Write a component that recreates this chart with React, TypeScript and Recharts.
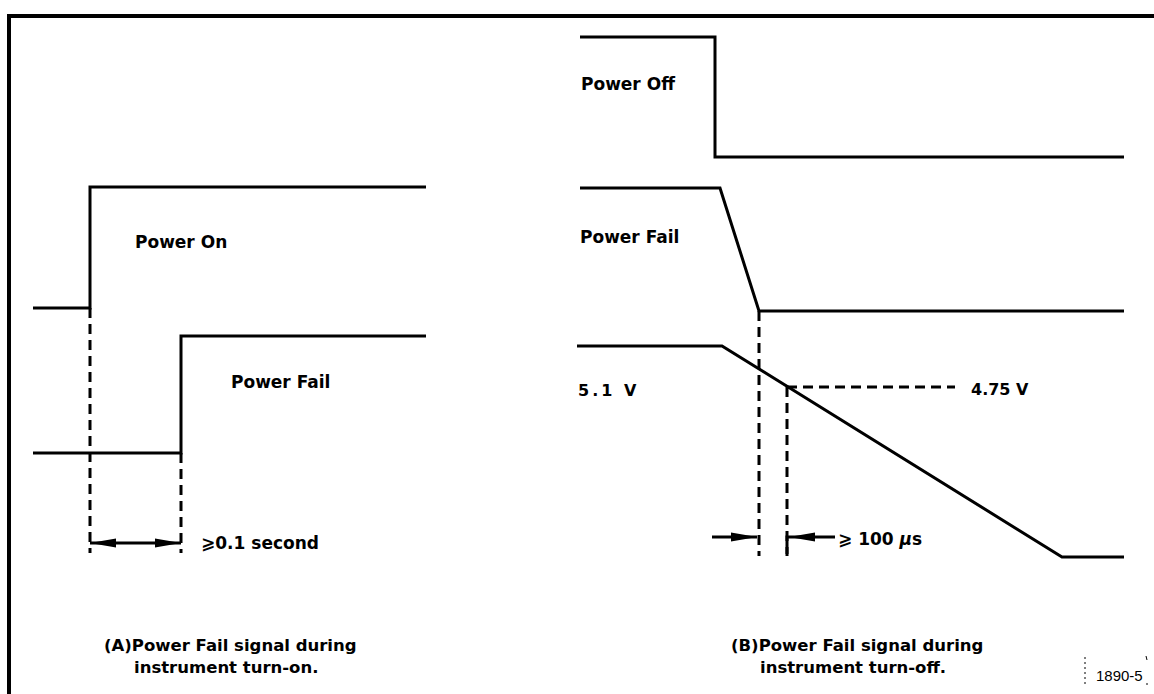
import { ComposedChart, Line, Scatter, XAxis, YAxis } from "recharts";

// schematic units: time runs left to right over both panels, level runs bottom to top

// (A) turn-on
const powerOnA = [
  { time: 33, level: 386 },
  { time: 90, level: 386 },
  { time: 90, level: 507 },
  { time: 426, level: 507 },
];
const powerFailA = [
  { time: 33, level: 241 },
  { time: 181, level: 241 },
  { time: 181, level: 358 },
  { time: 426, level: 358 },
];
const markerOnA = [
  { time: 90, level: 386 },
  { time: 90, level: 141 },
];
const markerFailA = [
  { time: 181, level: 241 },
  { time: 181, level: 141 },
];
const spanA = [
  { time: 90, level: 151 },
  { time: 181, level: 151 },
];

// (B) turn-off
const powerOffB = [
  { time: 580, level: 657 },
  { time: 715, level: 657 },
  { time: 715, level: 537 },
  { time: 1124, level: 537 },
];
const powerFailB = [
  { time: 580, level: 506 },
  { time: 720, level: 506 },
  { time: 759, level: 383 },
  { time: 1124, level: 383 },
];
const supplyB = [
  { time: 577, level: 348 },
  { time: 722, level: 348 },
  { time: 1062, level: 137 },
  { time: 1124, level: 137 },
];
const markerFailB = [
  { time: 759, level: 383 },
  { time: 759, level: 138 },
];
const marker475B = [
  { time: 787, level: 307 },
  { time: 787, level: 138 },
];
const threshold475B = [
  { time: 787, level: 307 },
  { time: 955, level: 307 },
];
const leadInB = [
  { time: 712, level: 157 },
  { time: 757, level: 157 },
];
const leadOutB = [
  { time: 835, level: 157 },
  { time: 787, level: 157 },
  { time: 787, level: 140 },
];

const arrowHeads = [
  { time: 90, level: 151, dir: "left" },
  { time: 181, level: 151, dir: "right" },
  { time: 757, level: 157, dir: "right" },
  { time: 789, level: 157, dir: "left" },
];

const solid = [powerOnA, powerFailA, powerOffB, powerFailB, supplyB, spanA, leadInB, leadOutB];
const dashed = [markerOnA, markerFailA, markerFailB, marker475B, threshold475B];

const ArrowHead = (props: any) => {
  const { cx, cy, payload } = props;
  const s = payload.dir === "left" ? 1 : -1;
  const len = 26;
  const w = 4.5;
  return (
    <polygon
      points={`${cx},${cy} ${cx + s * len},${cy - w} ${cx + s * len},${cy + w}`}
      fill="#000"
    />
  );
};

const font = "'DejaVu Sans', 'Liberation Sans', sans-serif";

export default function App() {
  return (
    <div style={{ position: "absolute", left: 0, top: 0, width: 1154, height: 694, background: "#fff" }}>
      <ComposedChart width={1154} height={694} margin={{ top: 0, right: 0, bottom: 0, left: 0 }}>
        <XAxis type="number" dataKey="time" domain={[0, 1154]} hide />
        <YAxis type="number" domain={[0, 694]} hide />
        {solid.map((d, i) => (
          <Line
            key={"s" + i}
            data={d}
            dataKey="level"
            type="linear"
            stroke="#000"
            strokeWidth={3}
            dot={false}
            activeDot={false}
            isAnimationActive={false}
          />
        ))}
        {dashed.map((d, i) => (
          <Line
            key={"d" + i}
            data={d}
            dataKey="level"
            type="linear"
            stroke="#000"
            strokeWidth={3}
            strokeDasharray="10 6"
            dot={false}
            activeDot={false}
            isAnimationActive={false}
          />
        ))}
        <Scatter data={arrowHeads} dataKey="level" shape={ArrowHead} isAnimationActive={false} />
      </ComposedChart>

      <svg
        width={1154}
        height={694}
        style={{ position: "absolute", left: 0, top: 0, pointerEvents: "none" }}
      >
        {/* frame */}
        <line x1={7} y1={16} x2={1154} y2={16} stroke="#000" strokeWidth={4} />
        <line x1={9} y1={14} x2={9} y2={694} stroke="#000" strokeWidth={4} />

        <g fontFamily={font} fontWeight="bold" fontSize={17} fill="#000">
          <text x={135} y={248}>Power On</text>
          <text x={231} y={388}>Power Fail</text>
          <text x={201} y={549}>⩾0.1 second</text>
          <text x={581} y={90}>Power Off</text>
          <text x={580} y={243}>Power Fail</text>
          <text x={578} y={396} fontSize={16} letterSpacing={3}>5.1 V</text>
          <text x={971} y={395} fontSize={16}>4.75 V</text>
          <text x={838} y={545}>
            ⩾ 100 <tspan fontStyle="italic">μ</tspan>s
          </text>
        </g>

        <g fontFamily={font} fontWeight="bold" fontSize={16.5} fill="#000">
          <text x={104} y={651}>(A)Power Fail signal during</text>
          <text x={134} y={673}>instrument turn-on.</text>
          <text x={731} y={651}>(B)Power Fail signal during</text>
          <text x={760} y={673}>instrument turn-off.</text>
        </g>

        <line x1={1085} y1={657} x2={1085} y2={686} stroke="#000" strokeWidth={1} strokeDasharray="2 3" />
        <line x1={1146} y1={656} x2={1147} y2={660} stroke="#000" strokeWidth={1} />
        <line x1={1147} y1={683} x2={1147} y2={685} stroke="#000" strokeWidth={1} />
        <text x={1096} y={681} fontFamily="'Liberation Sans', Arial, sans-serif" fontSize={15} fill="#000">
          1890-5
        </text>
      </svg>
    </div>
  );
}
